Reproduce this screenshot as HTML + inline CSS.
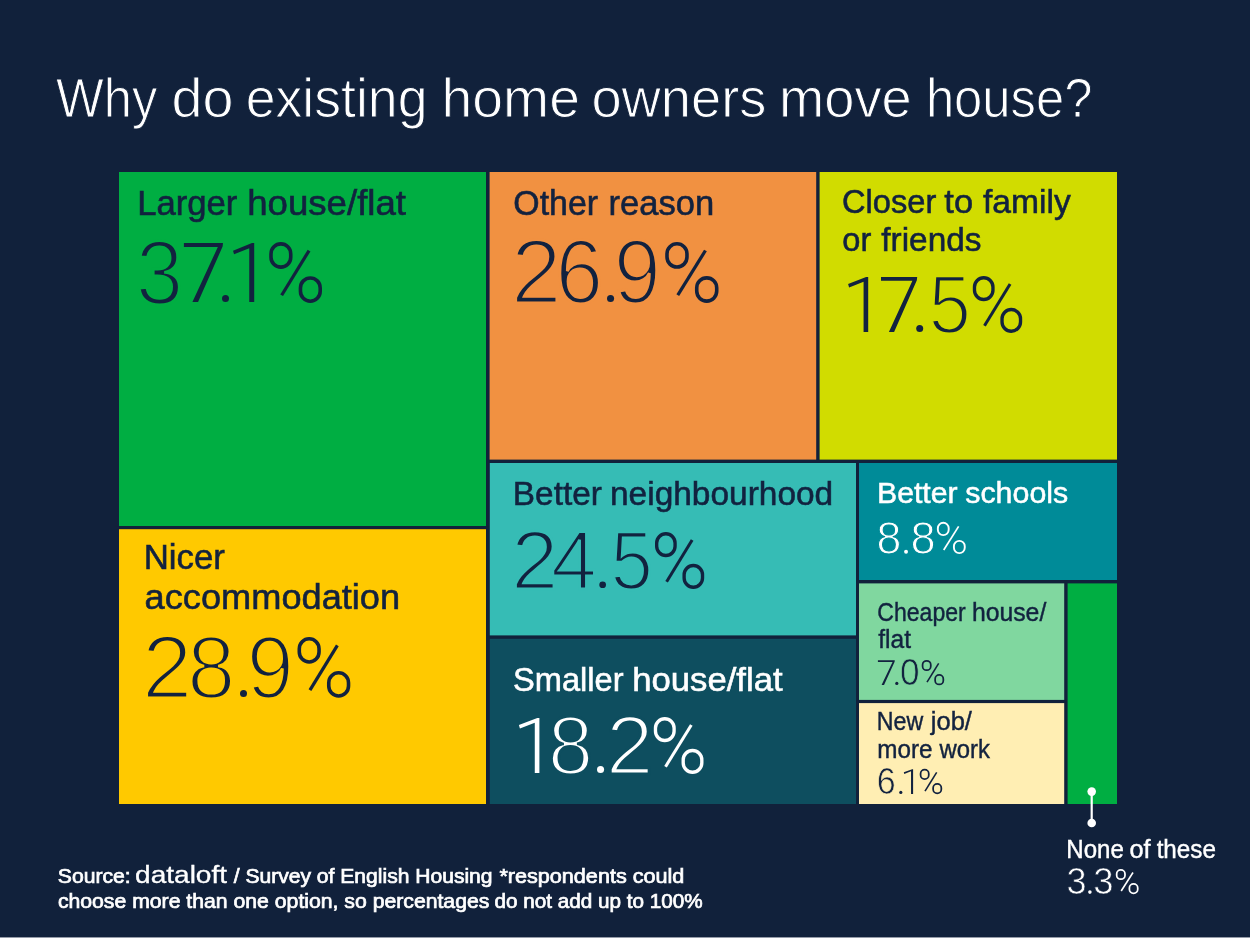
<!DOCTYPE html>
<html lang="en">
<head>
<meta charset="utf-8">
<title>Why do existing home owners move house?</title>
<style>
html,body{margin:0;padding:0;background:#11213b;}
body{width:1250px;height:938px;overflow:hidden;font-family:"Liberation Sans",sans-serif;}
svg{display:block;position:absolute;left:0;top:0;will-change:transform;}
svg text{font-family:"Liberation Sans",sans-serif;white-space:pre;}
</style>
</head>
<body>
<svg width="1250" height="938" viewBox="0 0 1250 938">
<rect x="0" y="0" width="1250" height="938" fill="#11213b"/>
<rect x="119.00" y="172.00" width="367.00" height="354.00" fill="#00ae42"/>
<rect x="119.00" y="529.20" width="367.00" height="274.80" fill="#ffc900"/>
<rect x="489.60" y="172.00" width="326.60" height="287.60" fill="#f19141"/>
<rect x="819.60" y="172.00" width="297.40" height="287.60" fill="#d1dc00"/>
<rect x="489.80" y="463.00" width="366.20" height="172.40" fill="#36bcb5"/>
<rect x="489.80" y="638.80" width="366.20" height="165.20" fill="#0e4e5f"/>
<rect x="859.00" y="463.00" width="258.00" height="117.00" fill="#008b98"/>
<rect x="859.00" y="583.40" width="205.20" height="116.50" fill="#80d79f"/>
<rect x="859.00" y="703.10" width="205.20" height="100.90" fill="#ffeeb3"/>
<rect x="1067.60" y="583.40" width="49.40" height="220.60" fill="#00ae42"/>
<text x="56.05" y="116.50" font-size="56.0" fill="#ffffff" stroke="#11213b" stroke-width="1.0" textLength="101.16" lengthAdjust="spacingAndGlyphs">Why</text>
<text x="171.45" y="116.50" font-size="56.0" fill="#ffffff" stroke="#11213b" stroke-width="1.0" textLength="62.00" lengthAdjust="spacingAndGlyphs">do</text>
<text x="245.72" y="116.50" font-size="56.0" fill="#ffffff" stroke="#11213b" stroke-width="1.0" textLength="181.79" lengthAdjust="spacingAndGlyphs">existing</text>
<text x="441.62" y="116.50" font-size="56.0" fill="#ffffff" stroke="#11213b" stroke-width="1.0" textLength="138.27" lengthAdjust="spacingAndGlyphs">home</text>
<text x="591.45" y="116.50" font-size="56.0" fill="#ffffff" stroke="#11213b" stroke-width="1.0" textLength="174.98" lengthAdjust="spacingAndGlyphs">owners</text>
<text x="779.08" y="116.50" font-size="56.0" fill="#ffffff" stroke="#11213b" stroke-width="1.0" textLength="132.71" lengthAdjust="spacingAndGlyphs">move</text>
<text x="925.92" y="116.50" font-size="56.0" fill="#ffffff" stroke="#11213b" stroke-width="1.0" textLength="166.46" lengthAdjust="spacingAndGlyphs">house?</text>
<text x="137.13" y="214.51" font-size="34.933" fill="#12223f" stroke="#12223f" stroke-width="0.59" textLength="100.26" lengthAdjust="spacingAndGlyphs">Larger</text>
<text x="247.17" y="214.51" font-size="34.933" fill="#12223f" stroke="#12223f" stroke-width="0.59" textLength="158.89" lengthAdjust="spacingAndGlyphs">house/flat</text>
<text x="513.34" y="214.51" font-size="34.933" fill="#12223f" stroke="#12223f" stroke-width="0.59" textLength="84.74" lengthAdjust="spacingAndGlyphs">Other</text>
<text x="608.58" y="214.51" font-size="34.933" fill="#12223f" stroke="#12223f" stroke-width="0.59" textLength="105.60" lengthAdjust="spacingAndGlyphs">reason</text>
<text x="841.98" y="212.62" font-size="33.559" fill="#12223f" stroke="#12223f" stroke-width="0.57" textLength="94.29" lengthAdjust="spacingAndGlyphs">Closer</text>
<text x="944.38" y="212.62" font-size="33.559" fill="#12223f" stroke="#12223f" stroke-width="0.57" textLength="28.75" lengthAdjust="spacingAndGlyphs">to</text>
<text x="983.01" y="212.62" font-size="33.559" fill="#12223f" stroke="#12223f" stroke-width="0.57" textLength="87.77" lengthAdjust="spacingAndGlyphs">family</text>
<text x="842.28" y="250.62" font-size="33.559" fill="#12223f" stroke="#12223f" stroke-width="0.57" textLength="29.00" lengthAdjust="spacingAndGlyphs">or</text>
<text x="881.31" y="250.62" font-size="33.559" fill="#12223f" stroke="#12223f" stroke-width="0.57" textLength="100.22" lengthAdjust="spacingAndGlyphs">friends</text>
<text x="143.66" y="569.31" font-size="34.446000000000005" fill="#12223f" stroke="#12223f" stroke-width="0.58" textLength="81.22" lengthAdjust="spacingAndGlyphs">Nicer</text>
<text x="144.63" y="609.31" font-size="34.446000000000005" fill="#12223f" stroke="#12223f" stroke-width="0.58" textLength="255.52" lengthAdjust="spacingAndGlyphs">accommodation</text>
<text x="512.89" y="504.93" font-size="32.684999999999995" fill="#12223f" stroke="#12223f" stroke-width="0.55" textLength="88.97" lengthAdjust="spacingAndGlyphs">Better</text>
<text x="610.00" y="504.93" font-size="32.684999999999995" fill="#12223f" stroke="#12223f" stroke-width="0.55" textLength="223.23" lengthAdjust="spacingAndGlyphs">neighbourhood</text>
<text x="513.10" y="691.23" font-size="32.485" fill="#ffffff" stroke="#ffffff" stroke-width="0.55" textLength="110.46" lengthAdjust="spacingAndGlyphs">Smaller</text>
<text x="632.22" y="691.23" font-size="32.485" fill="#ffffff" stroke="#ffffff" stroke-width="0.55" textLength="150.44" lengthAdjust="spacingAndGlyphs">house/flat</text>
<text x="876.99" y="503.15" font-size="29.950000000000003" fill="#ffffff" stroke="#ffffff" stroke-width="0.5" textLength="80.65" lengthAdjust="spacingAndGlyphs">Better</text>
<text x="965.22" y="503.15" font-size="29.950000000000003" fill="#ffffff" stroke="#ffffff" stroke-width="0.5" textLength="103.02" lengthAdjust="spacingAndGlyphs">schools</text>
<text x="877.35" y="620.54" font-size="24.854" fill="#12223f" stroke="#12223f" stroke-width="0.42" textLength="88.35" lengthAdjust="spacingAndGlyphs">Cheaper</text>
<text x="971.89" y="620.54" font-size="24.854" fill="#12223f" stroke="#12223f" stroke-width="0.42" textLength="74.40" lengthAdjust="spacingAndGlyphs">house/</text>
<text x="878.26" y="647.54" font-size="24.854" fill="#12223f" stroke="#12223f" stroke-width="0.42" textLength="32.71" lengthAdjust="spacingAndGlyphs">flat</text>
<text x="876.87" y="730.24" font-size="24.854" fill="#12223f" stroke="#12223f" stroke-width="0.42" textLength="46.36" lengthAdjust="spacingAndGlyphs">New</text>
<text x="930.82" y="730.24" font-size="24.854" fill="#12223f" stroke="#12223f" stroke-width="0.42" textLength="41.07" lengthAdjust="spacingAndGlyphs">job/</text>
<text x="877.26" y="757.54" font-size="24.854" fill="#12223f" stroke="#12223f" stroke-width="0.42" textLength="55.23" lengthAdjust="spacingAndGlyphs">more</text>
<text x="939.45" y="757.54" font-size="24.854" fill="#12223f" stroke="#12223f" stroke-width="0.42" textLength="50.41" lengthAdjust="spacingAndGlyphs">work</text>
<text x="1066.37" y="857.99" font-size="24.854" fill="#ffffff" stroke="#ffffff" stroke-width="0.42" textLength="57.52" lengthAdjust="spacingAndGlyphs">None</text>
<text x="1129.47" y="857.99" font-size="24.854" fill="#ffffff" stroke="#ffffff" stroke-width="0.42" textLength="21.09" lengthAdjust="spacingAndGlyphs">of</text>
<text x="1156.63" y="857.99" font-size="24.854" fill="#ffffff" stroke="#ffffff" stroke-width="0.42" textLength="59.26" lengthAdjust="spacingAndGlyphs">these</text>
<text transform="translate(135.98,303.50) scale(0.9400,1)" font-size="89.97" fill="#12223f" stroke="#00ae42" stroke-width="3.0">3</text>
<polygon points="183.90,243.10 223.00,243.10 222.61,246.52 198.05,302.00 192.42,302.00 217.84,246.99 183.90,246.99" fill="#12223f"/>
<circle cx="225.50" cy="298.60" r="3.50" fill="#12223f"/>
<polygon points="254.20,243.10 254.20,302.00 249.25,302.00 249.25,248.28 234.06,254.29 233.00,250.64 251.97,243.10" fill="#12223f"/>
<rect x="271.00" y="243.90" width="19.74" height="23.27" rx="9.87" ry="10.00" fill="none" stroke="#12223f" stroke-width="3.59"/>
<rect x="300.46" y="277.94" width="19.74" height="23.27" rx="9.87" ry="10.00" fill="none" stroke="#12223f" stroke-width="3.59"/>
<line x1="309.06" y1="250.58" x2="281.66" y2="295.23" stroke="#12223f" stroke-width="3.24"/>
<text transform="translate(510.93,303.40) scale(1.0100,1)" font-size="89.97" fill="#12223f" stroke="#f19141" stroke-width="3.0">2</text>
<text transform="translate(555.55,303.40) scale(0.9514,1)" font-size="89.97" fill="#12223f" stroke="#f19141" stroke-width="3.0">6</text>
<circle cx="610.55" cy="298.45" r="3.55" fill="#12223f"/>
<text transform="translate(613.64,303.40) scale(0.9384,1)" font-size="89.97" fill="#12223f" stroke="#f19141" stroke-width="3.0">9</text>
<rect x="667.00" y="243.80" width="19.97" height="23.27" rx="9.98" ry="10.00" fill="none" stroke="#12223f" stroke-width="3.59"/>
<rect x="696.74" y="277.84" width="19.97" height="23.27" rx="9.98" ry="10.00" fill="none" stroke="#12223f" stroke-width="3.59"/>
<line x1="705.44" y1="250.48" x2="677.78" y2="295.13" stroke="#12223f" stroke-width="3.24"/>
<polygon points="868.20,277.00 868.20,332.00 863.58,332.00 863.58,281.84 849.11,287.45 848.10,284.04 866.12,277.00" fill="#12223f"/>
<polygon points="881.00,277.00 917.20,277.00 916.84,280.19 894.10,332.00 888.89,332.00 912.42,280.63 881.00,280.63" fill="#12223f"/>
<circle cx="919.70" cy="328.60" r="3.50" fill="#12223f"/>
<text transform="translate(928.77,333.40) scale(0.9013,1)" font-size="84.01" fill="#12223f" stroke="#d1dc00" stroke-width="2.8">5</text>
<rect x="974.48" y="277.74" width="18.48" height="21.73" rx="9.24" ry="9.34" fill="none" stroke="#12223f" stroke-width="3.35"/>
<rect x="1002.04" y="309.53" width="18.48" height="21.73" rx="9.24" ry="9.34" fill="none" stroke="#12223f" stroke-width="3.35"/>
<line x1="1010.10" y1="283.99" x2="984.46" y2="325.68" stroke="#12223f" stroke-width="3.02"/>
<text transform="translate(142.05,698.30) scale(1.0068,1)" font-size="89.83" fill="#12223f" stroke="#ffc900" stroke-width="3.0">2</text>
<text transform="translate(187.25,698.30) scale(0.9608,1)" font-size="89.83" fill="#12223f" stroke="#ffc900" stroke-width="3.0">8</text>
<circle cx="243.50" cy="693.40" r="3.50" fill="#12223f"/>
<text transform="translate(246.64,698.30) scale(0.9399,1)" font-size="89.83" fill="#12223f" stroke="#ffc900" stroke-width="3.0">9</text>
<rect x="299.29" y="638.79" width="19.75" height="23.23" rx="9.88" ry="9.99" fill="none" stroke="#12223f" stroke-width="3.59"/>
<rect x="328.76" y="672.78" width="19.75" height="23.23" rx="9.88" ry="9.99" fill="none" stroke="#12223f" stroke-width="3.59"/>
<line x1="337.36" y1="645.47" x2="309.96" y2="690.04" stroke="#12223f" stroke-width="3.23"/>
<text transform="translate(511.15,589.40) scale(1.0059,1)" font-size="84.01" fill="#12223f" stroke="#36bcb5" stroke-width="2.8">2</text>
<text transform="translate(551.11,589.40) scale(0.9803,1)" font-size="84.01" fill="#12223f" stroke="#36bcb5" stroke-width="2.8">4</text>
<circle cx="602.65" cy="584.75" r="3.35" fill="#12223f"/>
<text transform="translate(610.78,589.40) scale(0.8988,1)" font-size="84.01" fill="#12223f" stroke="#36bcb5" stroke-width="2.8">5</text>
<rect x="656.68" y="533.74" width="18.39" height="21.73" rx="9.20" ry="9.34" fill="none" stroke="#12223f" stroke-width="3.35"/>
<rect x="684.13" y="565.53" width="18.39" height="21.73" rx="9.20" ry="9.34" fill="none" stroke="#12223f" stroke-width="3.35"/>
<line x1="692.15" y1="539.99" x2="666.61" y2="581.67" stroke="#12223f" stroke-width="3.02"/>
<polygon points="539.40,718.00 539.40,773.00 534.78,773.00 534.78,722.84 519.92,728.45 518.90,725.04 537.32,718.00" fill="#ffffff"/>
<text transform="translate(547.88,774.40) scale(0.9639,1)" font-size="84.01" fill="#ffffff" stroke="#0e4e5f" stroke-width="2.8">8</text>
<circle cx="600.55" cy="769.55" r="3.55" fill="#ffffff"/>
<text transform="translate(606.12,774.40) scale(1.0138,1)" font-size="84.01" fill="#ffffff" stroke="#0e4e5f" stroke-width="2.8">2</text>
<rect x="655.48" y="718.74" width="18.61" height="21.73" rx="9.31" ry="9.34" fill="none" stroke="#ffffff" stroke-width="3.35"/>
<rect x="683.21" y="750.53" width="18.61" height="21.73" rx="9.31" ry="9.34" fill="none" stroke="#ffffff" stroke-width="3.35"/>
<line x1="691.32" y1="724.99" x2="665.53" y2="766.67" stroke="#ffffff" stroke-width="3.02"/>
<text transform="translate(876.61,554.15) scale(0.9532,1)" font-size="46.95" fill="#ffffff" stroke="#008b98" stroke-width="1.1">8</text>
<circle cx="906.05" cy="551.75" r="1.95" fill="#ffffff"/>
<text transform="translate(910.59,554.15) scale(0.9623,1)" font-size="46.95" fill="#ffffff" stroke="#008b98" stroke-width="1.1">8</text>
<rect x="937.85" y="522.82" width="10.83" height="12.32" rx="5.41" ry="5.30" fill="none" stroke="#ffffff" stroke-width="1.90"/>
<rect x="953.92" y="540.85" width="10.83" height="12.32" rx="5.41" ry="5.30" fill="none" stroke="#ffffff" stroke-width="1.90"/>
<line x1="958.64" y1="526.36" x2="943.70" y2="550.01" stroke="#ffffff" stroke-width="1.72"/>
<polygon points="877.90,660.30 894.80,660.30 894.63,661.73 884.02,684.90 881.58,684.90 892.57,661.92 877.90,661.92" fill="#12223f"/>
<circle cx="896.80" cy="683.40" r="1.60" fill="#12223f"/>
<text transform="translate(900.08,685.25) scale(0.9557,1)" font-size="36.77" fill="#12223f" stroke="#80d79f" stroke-width="0.7">0</text>
<rect x="922.58" y="660.76" width="8.20" height="9.47" rx="4.10" ry="4.07" fill="none" stroke="#12223f" stroke-width="1.75"/>
<rect x="935.13" y="674.98" width="8.20" height="9.47" rx="4.10" ry="4.07" fill="none" stroke="#12223f" stroke-width="1.75"/>
<line x1="938.69" y1="663.42" x2="927.01" y2="682.07" stroke="#12223f" stroke-width="1.60"/>
<text transform="translate(876.72,794.25) scale(0.9216,1)" font-size="36.92" fill="#12223f" stroke="#ffeeb3" stroke-width="0.7">6</text>
<circle cx="900.80" cy="792.40" r="1.60" fill="#12223f"/>
<polygon points="913.10,769.20 913.10,793.90 911.03,793.90 911.03,771.37 904.26,773.89 903.80,772.36 912.17,769.20" fill="#12223f"/>
<rect x="920.58" y="769.66" width="8.20" height="9.51" rx="4.10" ry="4.09" fill="none" stroke="#12223f" stroke-width="1.75"/>
<rect x="933.13" y="783.93" width="8.20" height="9.51" rx="4.10" ry="4.09" fill="none" stroke="#12223f" stroke-width="1.75"/>
<line x1="936.69" y1="772.34" x2="925.01" y2="791.06" stroke="#12223f" stroke-width="1.60"/>
<text transform="translate(1066.38,894.15) scale(0.9886,1)" font-size="36.48" fill="#ffffff" stroke="#11213b" stroke-width="0.7">3</text>
<circle cx="1089.90" cy="892.10" r="1.80" fill="#ffffff"/>
<text transform="translate(1093.36,894.15) scale(1.0001,1)" font-size="36.48" fill="#ffffff" stroke="#11213b" stroke-width="0.7">3</text>
<rect x="1116.67" y="869.86" width="8.33" height="9.38" rx="4.16" ry="4.03" fill="none" stroke="#ffffff" stroke-width="1.75"/>
<rect x="1129.40" y="883.96" width="8.33" height="9.38" rx="4.16" ry="4.03" fill="none" stroke="#ffffff" stroke-width="1.75"/>
<line x1="1133.01" y1="872.50" x2="1121.18" y2="890.99" stroke="#ffffff" stroke-width="1.60"/>
<line x1="1091.7" y1="791.6" x2="1091.7" y2="823" stroke="#fff" stroke-width="2.2"/>
<circle cx="1091.7" cy="791.6" r="4.3" fill="#fff"/>
<circle cx="1091.7" cy="823.0" r="4.3" fill="#fff"/>
<text x="57.85" y="882.95" font-size="19.9" fill="#ffffff" stroke="#ffffff" stroke-width="0.7" textLength="72.82" lengthAdjust="spacingAndGlyphs">Source:</text>
<text x="135.13" y="883.12" font-size="24.8" fill="#ffffff" stroke="#ffffff" stroke-width="0.35" textLength="91.87" lengthAdjust="spacingAndGlyphs">dataloft</text>
<text x="233.75" y="882.95" font-size="19.9" fill="#ffffff" stroke="#ffffff" stroke-width="0.7" textLength="258.78" lengthAdjust="spacingAndGlyphs">/ Survey of English Housing</text>
<text x="499.43" y="882.95" font-size="19.9" fill="#ffffff" stroke="#ffffff" stroke-width="0.7" textLength="184.90" lengthAdjust="spacingAndGlyphs">*respondents could</text>
<text x="57.90" y="907.95" font-size="19.9" fill="#ffffff" stroke="#ffffff" stroke-width="0.7" textLength="431.46" lengthAdjust="spacingAndGlyphs">choose more than one option, so percentages</text>
<text x="494.51" y="907.95" font-size="19.9" fill="#ffffff" stroke="#ffffff" stroke-width="0.7" textLength="208.04" lengthAdjust="spacingAndGlyphs">do not add up to 100%</text>
<rect x="0.00" y="937.00" width="1250.00" height="1.00" fill="#959ba8"/>
</svg>
</body>
</html>
